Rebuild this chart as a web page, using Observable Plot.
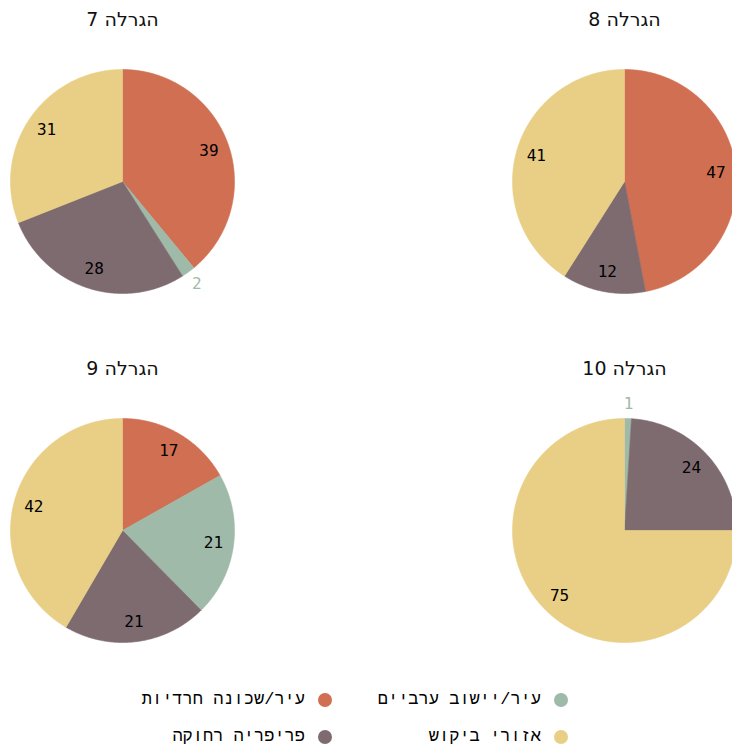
<!DOCTYPE html>
<html><head><meta charset="utf-8">
<script src="https://cdn.jsdelivr.net/npm/d3@7"></script>
<script src="https://cdn.jsdelivr.net/npm/@observablehq/plot@0.6"></script>
<style>
body{margin:0;background:#fff;overflow:hidden;width:732px;height:748px;}
#chart svg text{direction:rtl;unicode-bidi:embed;}
#legend{display:grid;grid-template-columns:236px 236px;direction:rtl;width:472px;margin-left:98px;margin-top:21px;
  font-family:"Liberation Mono",monospace;font-size:17px;color:#000;}
#legend .item{display:flex;align-items:center;gap:13px;height:37px;padding-right:2px;}
#legend .dot{width:14px;height:14px;border-radius:50%;flex:none;}
</style>
</head><body><div id="chart"></div><div id="legend"></div>
<script>
const draws = ["הגרלה 7", "הגרלה 8", "הגרלה 9", "הגרלה 10"];
const categories = ["עיר/שכונה חרדיות", "עיר/יישוב ערביים", "פריפריה רחוקה", "אזורי ביקוש"];
const colors = ["#d06f52", "#9fbaa8", "#7e6b70", "#e8cf85"];
const haredi = [39, 47, 17, 0];
const arab = [2, 0, 21, 1];
const periphery = [28, 12, 21, 24];
const demand = [31, 41, 42, 75];
const legendOrder = [1, 0, 3, 2];

// layout (in pie-radius units)
const DX = 502 / 112, DY = 349 / 112;
const series = [haredi, arab, periphery, demand];

const points = [], labels = [], titles = [];
draws.forEach((d, i) => {
  const cx = (i % 2) * DX, cy = Math.floor(i / 2) * DY;
  const vals = series.map(s => s[i]);
  const total = d3.sum(vals);
  let cum = 0;
  titles.push({x: cx, y: cy - 1.446, text: d});
  vals.forEach((v, k) => {
    if (v <= 0) { return; }
    const a0 = cum / total * 2 * Math.PI, a1 = (cum + v) / total * 2 * Math.PI;
    cum += v;
    const key = i + "-" + k;
    points.push({key, cat: categories[k], x: cx, y: cy});
    const n = Math.max(2, Math.ceil((a1 - a0) / (Math.PI / 360)));
    for (let j = 0; j <= n; j++) {
      const a = a0 + (a1 - a0) * j / n;
      points.push({key, cat: categories[k], x: cx + Math.sin(a), y: cy - Math.cos(a)});
    }
    points.push({key, cat: categories[k], x: cx, y: cy});
    const am = (a0 + a1) / 2;
    const small = v < 5;
    const r = small ? 1.13 : 0.82;
    labels.push({x: cx + r * Math.sin(am), y: cy - r * Math.cos(am), text: String(v), color: small ? colors[k] : "#000"});
  });
});

const plot = Plot.plot({
  width: 732, height: 660,
  marginTop: 0, marginRight: 0, marginBottom: 0, marginLeft: 0,
  x: {type: "linear", domain: [0, 1], range: [122, 234], axis: null},
  y: {type: "linear", domain: [0, 1], range: [181, 293], axis: null},
  color: {domain: categories, range: colors},
  style: {background: "white", overflow: "visible"},
  marks: [
    Plot.line(points, {x: "x", y: "y", z: "key", fill: "cat", stroke: "cat", strokeWidth: 0.6, curve: "linear"}),
    Plot.text(labels, {x: "x", y: "y", text: "text", fill: d => d.color, fontSize: 16, fontFamily: "DejaVu Sans Mono, monospace"}),
    Plot.text(titles, {x: "x", y: "y", text: "text", fill: "#111", fontSize: 19, fontFamily: "DejaVu Sans, sans-serif"})
  ]
});
document.getElementById("chart").append(plot);

const legend = document.getElementById("legend");
legendOrder.forEach(k => {
  const item = document.createElement("div");
  item.className = "item";
  const dot = document.createElement("span");
  dot.className = "dot";
  dot.style.background = colors[k];
  const t = document.createElement("span");
  t.textContent = categories[k];
  item.append(dot, t);
  legend.append(item);
});
</script>
</body></html>
